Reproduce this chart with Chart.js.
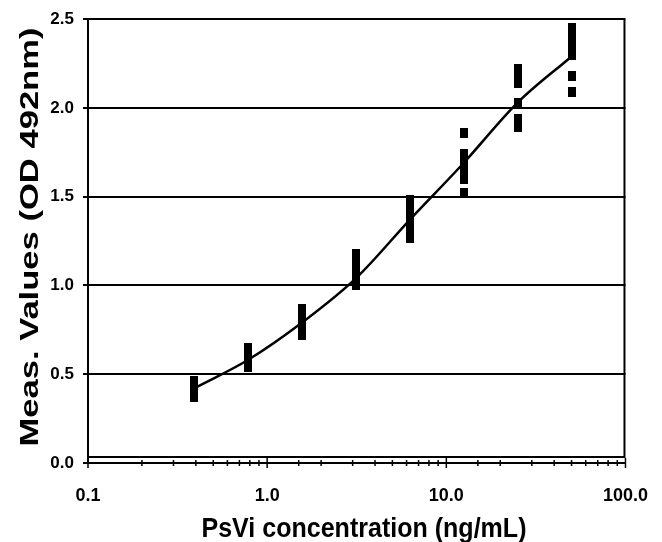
<!DOCTYPE html>
<html>
<head>
<meta charset="utf-8">
<script src="https://cdn.jsdelivr.net/npm/chart.js@4.4.1/dist/chart.umd.min.js"></script>
<style>
  html, body { margin: 0; background: #fff; }
  #wrap { width: 662px; height: 542px; }
</style>
</head>
<body>
<div id="wrap"><canvas id="c"></canvas></div>
<script>
// concentrations (ng/mL) and replicate OD readings
const conc = [0.39, 0.78, 1.56, 3.125, 6.25, 12.5, 25, 50];
const rep1 = [0.37, 0.54, 0.72, 1.00, 1.27, 1.52, 1.89, 2.09];
const rep2 = [0.39, 0.57, 0.76, 1.04, 1.32, 1.60, 1.94, 2.18];
const rep3 = [0.41, 0.60, 0.79, 1.08, 1.36, 1.64, 2.03, 2.30];
const rep4 = [0.43, 0.62, 0.82, 1.12, 1.41, 1.69, 2.14, 2.35];
const rep5 = [0.45, 0.64, 0.85, 1.16, 1.45, 1.74, 2.18, 2.40];
const rep6 = [0.46, 0.65, 0.87, 1.18, 1.48, 1.86, 2.22, 2.45];
// fitted standard curve at each concentration
const fit = [0.42, 0.58, 0.79, 1.04, 1.37, 1.69, 2.03, 2.29];

const xMajors = [0.1, 1, 10, 100];
const xTickLabels = ['0.1', '1.0', '10.0', '100.0'];
const yTickLabels = ['0.0', '0.5', '1.0', '1.5', '2.0', '2.5'];
const xTitle = 'PsVi concentration (ng/mL)';
const yTitle = 'Meas. Values (OD 492nm)';

const FONT = '"Liberation Sans", Arial, sans-serif';

// little black dash used as the marker
const dash = document.createElement('canvas');
dash.width = 8;
dash.height = 10;
const dctx = dash.getContext('2d');
dctx.fillStyle = '#000';
dctx.fillRect(0, 0, 8, 10);

const points = [];
[rep1, rep2, rep3, rep4, rep5, rep6].forEach((rep) => {
  rep.forEach((v, i) => points.push({ x: conc[i], y: v }));
});

const isMajor = (v) => {
  const l = Math.log10(v);
  return Math.abs(l - Math.round(l)) < 1e-6;
};

// squeezed text like the original export
function squeezedText(ctx, text, x, y, width, angle) {
  ctx.save();
  ctx.translate(x, y);
  ctx.rotate(angle);
  const w = ctx.measureText(text).width;
  ctx.scale(width / w, 1);
  ctx.textAlign = 'center';
  ctx.textBaseline = 'alphabetic';
  ctx.fillText(text, 0, 0);
  ctx.restore();
}

// axis ticks crossing the x axis, plot frame, axis titles
const frame = {
  id: 'frame',
  afterDraw(chart) {
    const { ctx, chartArea, scales } = chart;
    const xs = scales.x;
    const y0 = scales.y.getPixelForValue(0);
    ctx.save();
    ctx.strokeStyle = '#000';
    ctx.lineWidth = 1.5;
    xs.ticks.forEach((t) => {
      const px = xs.getPixelForValue(t.value);
      const len = isMajor(t.value) ? 5 : 3;
      ctx.beginPath();
      ctx.moveTo(px, y0 - len);
      ctx.lineTo(px, y0 + len);
      ctx.stroke();
    });
    // inner box
    ctx.lineWidth = 2;
    ctx.beginPath();
    ctx.moveTo(chartArea.left, y0 - 6);
    ctx.lineTo(chartArea.right - 1, y0 - 6);
    ctx.lineTo(chartArea.right - 1, chartArea.top);
    ctx.stroke();

    ctx.fillStyle = '#000';
    ctx.font = 'bold 28px ' + FONT;
    squeezedText(ctx, xTitle, 364, 537, 325, 0);
    ctx.font = 'bold 26px ' + FONT;
    squeezedText(ctx, yTitle, 38, 237, 419, -Math.PI / 2);
    ctx.restore();
  }
};

new Chart(document.getElementById('c'), {
  type: 'scatter',
  data: {
    datasets: [
      {
        label: 'fit',
        type: 'line',
        data: conc.map((c, i) => ({ x: c, y: fit[i] })),
        borderColor: '#000',
        borderWidth: 2.5,
        pointRadius: 0,
        cubicInterpolationMode: 'monotone',
        fill: false,
        order: 2
      },
      {
        label: 'replicates',
        data: points,
        pointStyle: dash,
        order: 1
      }
    ]
  },
  options: {
    responsive: true,
    maintainAspectRatio: false,
    animation: false,
    layout: { padding: { top: 18, right: 34, left: 0, bottom: 0 } },
    plugins: { legend: { display: false }, tooltip: { enabled: false } },
    scales: {
      x: {
        type: 'logarithmic',
        min: 0.1,
        max: 100,
        afterFit: (s) => { s.height = 79; },
        border: { color: '#000', width: 2 },
        grid: { display: false },
        ticks: {
          autoSkip: false,
          maxRotation: 0,
          color: '#000',
          font: { family: FONT, size: 18, weight: 'bold' },
          padding: 14,
          callback: (v) => {
            const k = xMajors.findIndex((m) => Math.abs(m - v) / m < 1e-6);
            return k >= 0 ? xTickLabels[k] : '';
          }
        }
      },
      y: {
        min: 0,
        max: 2.5,
        afterFit: (s) => { s.width = 88; },
        border: { color: '#000', width: 2 },
        grid: { color: '#000', lineWidth: 2, tickLength: 5 },
        ticks: {
          stepSize: 0.5,
          color: '#000',
          font: { family: FONT, size: 17, weight: 'bold' },
          padding: 9,
          callback: (v, i) => yTickLabels[i]
        }
      }
    }
  },
  plugins: [frame]
});
</script>
</body>
</html>
